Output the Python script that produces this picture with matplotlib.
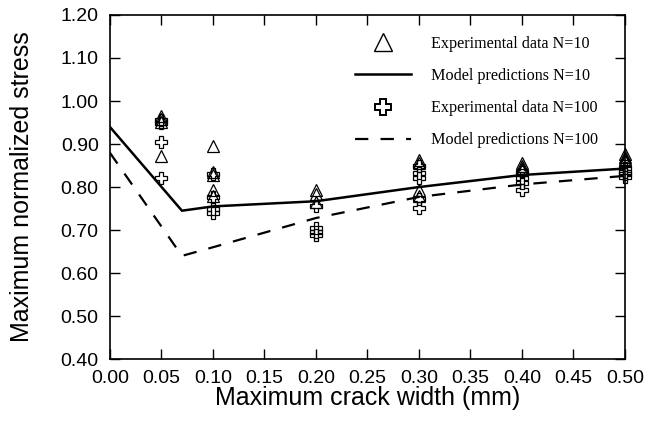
import matplotlib
matplotlib.use("Agg")
import matplotlib.pyplot as plt
from matplotlib.lines import Line2D

# experimental data, N=10 (triangles)
x_tri = [0.05, 0.05, 0.05, 0.05,
         0.10, 0.10, 0.10, 0.10, 0.10,
         0.20, 0.20, 0.20,
         0.30, 0.30, 0.30, 0.30,
         0.40, 0.40, 0.40, 0.40,
         0.50, 0.50, 0.50, 0.50]
y_tri = [0.965, 0.958, 0.952, 0.873,
         0.895, 0.835, 0.828, 0.792, 0.780,
         0.793, 0.783, 0.765,
         0.862, 0.855, 0.792, 0.780,
         0.855, 0.850, 0.845, 0.840,
         0.877, 0.870, 0.865, 0.860]

# experimental data, N=100 (crosses)
x_crs = [0.05, 0.05, 0.05, 0.05,
         0.10, 0.10, 0.10, 0.10,
         0.20, 0.20, 0.20, 0.20,
         0.30, 0.30, 0.30, 0.30, 0.30,
         0.40, 0.40, 0.40, 0.40,
         0.50, 0.50, 0.50, 0.50]
y_crs = [0.955, 0.950, 0.905, 0.820,
         0.830, 0.778, 0.750, 0.740,
         0.757, 0.705, 0.695, 0.688,
         0.848, 0.833, 0.822, 0.772, 0.752,
         0.835, 0.822, 0.810, 0.792,
         0.845, 0.836, 0.830, 0.823]

# model predictions
x_mod = [0.0, 0.07, 0.10, 0.20, 0.30, 0.40, 0.50]
y_mod10 = [0.940, 0.745, 0.755, 0.767, 0.800, 0.828, 0.843]
y_mod100 = [0.880, 0.640, 0.660, 0.728, 0.777, 0.806, 0.826]

xticks = [0.00, 0.05, 0.10, 0.15, 0.20, 0.25, 0.30, 0.35, 0.40, 0.45, 0.50]
yticks = [0.40, 0.50, 0.60, 0.70, 0.80, 0.90, 1.00, 1.10, 1.20]

plt.rcParams['font.family'] = ['Liberation Sans', 'DejaVu Sans']

fig = plt.figure(figsize=(6.46, 4.22), dpi=100)
ax = fig.add_axes([0.170, 0.149, 0.7975, 0.8155])

dash = (0, (6.0, 5.5))

ax.plot(x_mod, y_mod10, color='black', linewidth=1.8, zorder=2)
ax.plot(x_mod, y_mod100, color='black', linewidth=1.6, linestyle=dash, zorder=2)

ax.plot(x_tri, y_tri, linestyle='none', marker='^', markersize=8,
        markerfacecolor='none', markeredgecolor='black', markeredgewidth=0.9,
        zorder=3, clip_on=False)
ax.plot(x_crs, y_crs, linestyle='none', marker='P', markersize=9,
        markerfacecolor='none', markeredgecolor='black', markeredgewidth=0.9,
        zorder=3, clip_on=False)

ax.set_xlim(0, 0.5)
ax.set_ylim(0.4, 1.2)
ax.set_xticks(xticks)
ax.set_yticks(yticks)
ax.set_xticklabels([f'{t:.2f}' for t in xticks])
ax.set_yticklabels([f'{t:.2f}' for t in yticks])
ax.tick_params(direction='in', length=7, width=1, labelsize=14,
               top=True, right=True, pad=8)
for s in ax.spines.values():
    s.set_linewidth(1.2)

ax.set_xlabel('Maximum crack width (mm)', fontsize=18, labelpad=-1)
ax.set_ylabel('Maximum normalized stress', fontsize=18, labelpad=19)

handles = [
    Line2D([], [], linestyle='none', marker='^', markersize=13,
           markerfacecolor='none', markeredgecolor='black', markeredgewidth=1),
    Line2D([], [], color='black', linewidth=1.8),
    Line2D([], [], linestyle='none', marker='P', markersize=11,
           markerfacecolor='none', markeredgecolor='black', markeredgewidth=1.4),
    Line2D([], [], color='black', linewidth=1.6, linestyle=dash),
]
labels = ['Experimental data N=10', 'Model predictions N=10',
          'Experimental data N=100', 'Model predictions N=100']
fig.legend(handles, labels, loc='upper left',
           bbox_to_anchor=(355 / 646, 1 - 36 / 422),
           frameon=False, borderpad=0, borderaxespad=0,
           handlelength=3.5, handletextpad=1.2, labelspacing=1.0,
           prop={'family': 'Liberation Serif', 'size': 11.6})

fig.savefig('out.png', dpi=100)
